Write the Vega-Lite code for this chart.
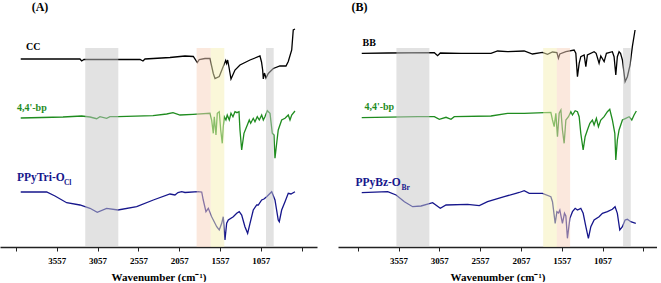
{
  "$schema": "https://vega.github.io/schema/vega-lite/v6.json",
  "padding": 0,
  "background": "white",
  "config": {
    "view": {"stroke": null},
    "concat": {"spacing": 21},
    "text": {"font": "Liberation Serif", "fontWeight": "bold"}
  },
  "datasets": {
    "specA": [
      {"s":"CC","wn":3999,"t":188},{"s":"CC","wn":3640,"t":188},{"s":"CC","wn":3273,"t":188},{"s":"CC","wn":3252,"t":186},{"s":"CC","wn":3224,"t":187.5},{"s":"CC","wn":3028,"t":187.5},{"s":"CC","wn":2807,"t":187.5},{"s":"CC","wn":2537,"t":187.5},{"s":"CC","wn":2501,"t":186},{"s":"CC","wn":2476,"t":188},{"s":"CC","wn":2170,"t":189.5},{"s":"CC","wn":1986,"t":191},{"s":"CC","wn":1884,"t":190.5},{"s":"CC","wn":1835,"t":184.5},{"s":"CC","wn":1811,"t":187.5},{"s":"CC","wn":1741,"t":188.5},{"s":"CC","wn":1680,"t":188.5},{"s":"CC","wn":1639,"t":173.5},{"s":"CC","wn":1618,"t":168.5},{"s":"CC","wn":1566,"t":170.5},{"s":"CC","wn":1517,"t":180.5},{"s":"CC","wn":1487,"t":186.5},{"s":"CC","wn":1475,"t":183.5},{"s":"CC","wn":1463,"t":187},{"s":"CC","wn":1447,"t":180},{"s":"CC","wn":1422,"t":168},{"s":"CC","wn":1373,"t":177},{"s":"CC","wn":1312,"t":182},{"s":"CC","wn":1189,"t":187},{"s":"CC","wn":1067,"t":191},{"s":"CC","wn":1048,"t":185},{"s":"CC","wn":1034,"t":177},{"s":"CC","wn":1026,"t":168},{"s":"CC","wn":1012,"t":174},{"s":"CC","wn":993,"t":169},{"s":"CC","wn":965,"t":173.5},{"s":"CC","wn":904,"t":178.5},{"s":"CC","wn":822,"t":181},{"s":"CC","wn":748,"t":181},{"s":"CC","wn":720,"t":185.5},{"s":"CC","wn":678,"t":197},{"s":"CC","wn":659,"t":217},{"s":"CC","wn":638,"t":218},
      {"s":"4,4'-bp","wn":3999,"t":129},{"s":"4,4'-bp","wn":3481,"t":130},{"s":"4,4'-bp","wn":3252,"t":131},{"s":"4,4'-bp","wn":3150,"t":130},{"s":"4,4'-bp","wn":3068,"t":128.3},{"s":"4,4'-bp","wn":3028,"t":130.3},{"s":"4,4'-bp","wn":2946,"t":128.7},{"s":"4,4'-bp","wn":2905,"t":130.3},{"s":"4,4'-bp","wn":2807,"t":130.3},{"s":"4,4'-bp","wn":2378,"t":131.3},{"s":"4,4'-bp","wn":2210,"t":133},{"s":"4,4'-bp","wn":2133,"t":134.3},{"s":"4,4'-bp","wn":2047,"t":132},{"s":"4,4'-bp","wn":1888,"t":132.7},{"s":"4,4'-bp","wn":1680,"t":133.7},{"s":"4,4'-bp","wn":1659,"t":127},{"s":"4,4'-bp","wn":1639,"t":113.7},{"s":"4,4'-bp","wn":1627,"t":130.3},{"s":"4,4'-bp","wn":1606,"t":112},{"s":"4,4'-bp","wn":1590,"t":133.7},{"s":"4,4'-bp","wn":1566,"t":135.3},{"s":"4,4'-bp","wn":1548,"t":117},{"s":"4,4'-bp","wn":1529,"t":103.7},{"s":"4,4'-bp","wn":1517,"t":120.3},{"s":"4,4'-bp","wn":1504,"t":130.3},{"s":"4,4'-bp","wn":1484,"t":127},{"s":"4,4'-bp","wn":1468,"t":132},{"s":"4,4'-bp","wn":1443,"t":127},{"s":"4,4'-bp","wn":1422,"t":133.7},{"s":"4,4'-bp","wn":1398,"t":130.3},{"s":"4,4'-bp","wn":1373,"t":135.3},{"s":"4,4'-bp","wn":1349,"t":134.3},{"s":"4,4'-bp","wn":1324,"t":135.3},{"s":"4,4'-bp","wn":1312,"t":117},{"s":"4,4'-bp","wn":1291,"t":97},{"s":"4,4'-bp","wn":1263,"t":113.7},{"s":"4,4'-bp","wn":1238,"t":118.7},{"s":"4,4'-bp","wn":1222,"t":122},{"s":"4,4'-bp","wn":1198,"t":127},{"s":"4,4'-bp","wn":1181,"t":123.7},{"s":"4,4'-bp","wn":1149,"t":128.7},{"s":"4,4'-bp","wn":1128,"t":125.3},{"s":"4,4'-bp","wn":1100,"t":130.3},{"s":"4,4'-bp","wn":1075,"t":127},{"s":"4,4'-bp","wn":1046,"t":132},{"s":"4,4'-bp","wn":1026,"t":127},{"s":"4,4'-bp","wn":1006,"t":130.3},{"s":"4,4'-bp","wn":977,"t":136.3},{"s":"4,4'-bp","wn":944,"t":133.7},{"s":"4,4'-bp","wn":916,"t":113.7},{"s":"4,4'-bp","wn":895,"t":112},{"s":"4,4'-bp","wn":883,"t":88.7},{"s":"4,4'-bp","wn":862,"t":103.7},{"s":"4,4'-bp","wn":843,"t":117},{"s":"4,4'-bp","wn":801,"t":127},{"s":"4,4'-bp","wn":760,"t":128.7},{"s":"4,4'-bp","wn":720,"t":132},{"s":"4,4'-bp","wn":699,"t":127},{"s":"4,4'-bp","wn":678,"t":132},{"s":"4,4'-bp","wn":638,"t":136},
      {"s":"PPyTri-OCl","wn":3999,"t":55},{"s":"PPyTri-OCl","wn":3681,"t":55},{"s":"PPyTri-OCl","wn":3579,"t":51},{"s":"PPyTri-OCl","wn":3436,"t":44.3},{"s":"PPyTri-OCl","wn":3273,"t":42},{"s":"PPyTri-OCl","wn":3150,"t":38.7},{"s":"PPyTri-OCl","wn":3061,"t":34.7},{"s":"PPyTri-OCl","wn":2946,"t":38.7},{"s":"PPyTri-OCl","wn":2807,"t":37},{"s":"PPyTri-OCl","wn":2578,"t":40.3},{"s":"PPyTri-OCl","wn":2374,"t":47},{"s":"PPyTri-OCl","wn":2170,"t":53},{"s":"PPyTri-OCl","wn":2109,"t":52},{"s":"PPyTri-OCl","wn":2072,"t":54.5},{"s":"PPyTri-OCl","wn":2026,"t":55.3},{"s":"PPyTri-OCl","wn":1986,"t":54.5},{"s":"PPyTri-OCl","wn":1823,"t":55.3},{"s":"PPyTri-OCl","wn":1781,"t":55},{"s":"PPyTri-OCl","wn":1762,"t":47},{"s":"PPyTri-OCl","wn":1729,"t":35.3},{"s":"PPyTri-OCl","wn":1700,"t":38.7},{"s":"PPyTri-OCl","wn":1659,"t":30.3},{"s":"PPyTri-OCl","wn":1597,"t":20.3},{"s":"PPyTri-OCl","wn":1566,"t":17},{"s":"PPyTri-OCl","wn":1536,"t":23.7},{"s":"PPyTri-OCl","wn":1517,"t":30.3},{"s":"PPyTri-OCl","wn":1496,"t":7},{"s":"PPyTri-OCl","wn":1475,"t":23.7},{"s":"PPyTri-OCl","wn":1455,"t":27},{"s":"PPyTri-OCl","wn":1394,"t":30.3},{"s":"PPyTri-OCl","wn":1352,"t":33.7},{"s":"PPyTri-OCl","wn":1321,"t":35.3},{"s":"PPyTri-OCl","wn":1291,"t":32},{"s":"PPyTri-OCl","wn":1251,"t":20.3},{"s":"PPyTri-OCl","wn":1218,"t":13.7},{"s":"PPyTri-OCl","wn":1189,"t":23.7},{"s":"PPyTri-OCl","wn":1149,"t":37},{"s":"PPyTri-OCl","wn":1107,"t":42},{"s":"PPyTri-OCl","wn":1088,"t":42},{"s":"PPyTri-OCl","wn":1046,"t":47},{"s":"PPyTri-OCl","wn":1018,"t":48},{"s":"PPyTri-OCl","wn":985,"t":50.3},{"s":"PPyTri-OCl","wn":923,"t":55.3},{"s":"PPyTri-OCl","wn":883,"t":47},{"s":"PPyTri-OCl","wn":843,"t":27},{"s":"PPyTri-OCl","wn":830,"t":25.3},{"s":"PPyTri-OCl","wn":801,"t":37},{"s":"PPyTri-OCl","wn":760,"t":45.3},{"s":"PPyTri-OCl","wn":720,"t":53.7},{"s":"PPyTri-OCl","wn":687,"t":53},{"s":"PPyTri-OCl","wn":638,"t":55.3}
    ],
    "specB": [
      {"s":"BB","wn":4008,"t":193.7},{"s":"BB","wn":3690,"t":194},{"s":"BB","wn":3118,"t":194.3},{"s":"BB","wn":3078,"t":191.3},{"s":"BB","wn":3045,"t":194},{"s":"BB","wn":2791,"t":193.7},{"s":"BB","wn":2424,"t":193.7},{"s":"BB","wn":2343,"t":196},{"s":"BB","wn":2221,"t":195.3},{"s":"BB","wn":2017,"t":196},{"s":"BB","wn":1915,"t":193},{"s":"BB","wn":1793,"t":194.7},{"s":"BB","wn":1731,"t":192.7},{"s":"BB","wn":1670,"t":195},{"s":"BB","wn":1616,"t":194.5},{"s":"BB","wn":1597,"t":188.7},{"s":"BB","wn":1580,"t":193},{"s":"BB","wn":1506,"t":195.3},{"s":"BB","wn":1405,"t":197},{"s":"BB","wn":1384,"t":193.7},{"s":"BB","wn":1364,"t":170.3},{"s":"BB","wn":1343,"t":183.7},{"s":"BB","wn":1323,"t":190.3},{"s":"BB","wn":1282,"t":192},{"s":"BB","wn":1261,"t":180.3},{"s":"BB","wn":1242,"t":192},{"s":"BB","wn":1160,"t":195.3},{"s":"BB","wn":1135,"t":193.7},{"s":"BB","wn":1099,"t":183.7},{"s":"BB","wn":1078,"t":191},{"s":"BB","wn":1037,"t":185.3},{"s":"BB","wn":1009,"t":193.7},{"s":"BB","wn":936,"t":195.3},{"s":"BB","wn":915,"t":190.3},{"s":"BB","wn":894,"t":172},{"s":"BB","wn":875,"t":190.3},{"s":"BB","wn":854,"t":195.3},{"s":"BB","wn":836,"t":193.7},{"s":"BB","wn":813,"t":187},{"s":"BB","wn":780,"t":165.3},{"s":"BB","wn":752,"t":170.3},{"s":"BB","wn":719,"t":182},{"s":"BB","wn":691,"t":200.3},{"s":"BB","wn":658,"t":217},
      {"s":"4,4'-bp","wn":4008,"t":129.3},{"s":"4,4'-bp","wn":3322,"t":130.3},{"s":"4,4'-bp","wn":3118,"t":130.3},{"s":"4,4'-bp","wn":3057,"t":127.7},{"s":"4,4'-bp","wn":2975,"t":129.7},{"s":"4,4'-bp","wn":2914,"t":127.7},{"s":"4,4'-bp","wn":2874,"t":130.3},{"s":"4,4'-bp","wn":2424,"t":131},{"s":"4,4'-bp","wn":2221,"t":133.7},{"s":"4,4'-bp","wn":2017,"t":133.7},{"s":"4,4'-bp","wn":1690,"t":134.7},{"s":"4,4'-bp","wn":1670,"t":127},{"s":"4,4'-bp","wn":1649,"t":120.3},{"s":"4,4'-bp","wn":1629,"t":133.7},{"s":"4,4'-bp","wn":1609,"t":110.3},{"s":"4,4'-bp","wn":1588,"t":133.7},{"s":"4,4'-bp","wn":1567,"t":137},{"s":"4,4'-bp","wn":1548,"t":117},{"s":"4,4'-bp","wn":1527,"t":103.7},{"s":"4,4'-bp","wn":1506,"t":127},{"s":"4,4'-bp","wn":1474,"t":130.3},{"s":"4,4'-bp","wn":1445,"t":135.3},{"s":"4,4'-bp","wn":1425,"t":132},{"s":"4,4'-bp","wn":1392,"t":136.3},{"s":"4,4'-bp","wn":1364,"t":135.3},{"s":"4,4'-bp","wn":1343,"t":130.3},{"s":"4,4'-bp","wn":1323,"t":113.7},{"s":"4,4'-bp","wn":1294,"t":97},{"s":"4,4'-bp","wn":1270,"t":110.3},{"s":"4,4'-bp","wn":1242,"t":117},{"s":"4,4'-bp","wn":1212,"t":123.7},{"s":"4,4'-bp","wn":1181,"t":127},{"s":"4,4'-bp","wn":1160,"t":122},{"s":"4,4'-bp","wn":1132,"t":128.7},{"s":"4,4'-bp","wn":1107,"t":120.3},{"s":"4,4'-bp","wn":1078,"t":127},{"s":"4,4'-bp","wn":1037,"t":130.3},{"s":"4,4'-bp","wn":997,"t":135.3},{"s":"4,4'-bp","wn":968,"t":137.7},{"s":"4,4'-bp","wn":936,"t":127},{"s":"4,4'-bp","wn":906,"t":113.7},{"s":"4,4'-bp","wn":894,"t":87},{"s":"4,4'-bp","wn":875,"t":107},{"s":"4,4'-bp","wn":854,"t":117},{"s":"4,4'-bp","wn":813,"t":127},{"s":"4,4'-bp","wn":772,"t":128.7},{"s":"4,4'-bp","wn":731,"t":130.3},{"s":"4,4'-bp","wn":698,"t":127},{"s":"4,4'-bp","wn":670,"t":132},{"s":"4,4'-bp","wn":642,"t":136},
      {"s":"PPyBz-OBr","wn":4008,"t":54.3},{"s":"PPyBz-OBr","wn":3690,"t":55.3},{"s":"PPyBz-OBr","wn":3587,"t":52},{"s":"PPyBz-OBr","wn":3485,"t":45.3},{"s":"PPyBz-OBr","wn":3384,"t":40.3},{"s":"PPyBz-OBr","wn":3281,"t":41},{"s":"PPyBz-OBr","wn":3139,"t":44.3},{"s":"PPyBz-OBr","wn":3045,"t":38.7},{"s":"PPyBz-OBr","wn":2975,"t":42},{"s":"PPyBz-OBr","wn":2711,"t":42.7},{"s":"PPyBz-OBr","wn":2567,"t":41.3},{"s":"PPyBz-OBr","wn":2466,"t":45.3},{"s":"PPyBz-OBr","wn":2261,"t":50.3},{"s":"PPyBz-OBr","wn":2118,"t":53.7},{"s":"PPyBz-OBr","wn":2078,"t":54.5},{"s":"PPyBz-OBr","wn":2017,"t":56.3},{"s":"PPyBz-OBr","wn":1955,"t":53.7},{"s":"PPyBz-OBr","wn":1793,"t":53.7},{"s":"PPyBz-OBr","wn":1690,"t":50.3},{"s":"PPyBz-OBr","wn":1670,"t":45.3},{"s":"PPyBz-OBr","wn":1637,"t":23.7},{"s":"PPyBz-OBr","wn":1616,"t":35.3},{"s":"PPyBz-OBr","wn":1597,"t":34},{"s":"PPyBz-OBr","wn":1580,"t":37},{"s":"PPyBz-OBr","wn":1548,"t":23.7},{"s":"PPyBz-OBr","wn":1523,"t":33.7},{"s":"PPyBz-OBr","wn":1506,"t":31},{"s":"PPyBz-OBr","wn":1487,"t":8.7},{"s":"PPyBz-OBr","wn":1457,"t":28.7},{"s":"PPyBz-OBr","wn":1425,"t":35.3},{"s":"PPyBz-OBr","wn":1392,"t":38.7},{"s":"PPyBz-OBr","wn":1364,"t":37},{"s":"PPyBz-OBr","wn":1323,"t":38.7},{"s":"PPyBz-OBr","wn":1294,"t":33.7},{"s":"PPyBz-OBr","wn":1261,"t":20.3},{"s":"PPyBz-OBr","wn":1230,"t":8.7},{"s":"PPyBz-OBr","wn":1200,"t":20.3},{"s":"PPyBz-OBr","wn":1160,"t":27},{"s":"PPyBz-OBr","wn":1099,"t":30.3},{"s":"PPyBz-OBr","wn":1058,"t":33.7},{"s":"PPyBz-OBr","wn":997,"t":35.3},{"s":"PPyBz-OBr","wn":936,"t":37.7},{"s":"PPyBz-OBr","wn":903,"t":40.3},{"s":"PPyBz-OBr","wn":875,"t":33.7},{"s":"PPyBz-OBr","wn":845,"t":17},{"s":"PPyBz-OBr","wn":813,"t":20.3},{"s":"PPyBz-OBr","wn":780,"t":27},{"s":"PPyBz-OBr","wn":752,"t":27.7},{"s":"PPyBz-OBr","wn":711,"t":25.3},{"s":"PPyBz-OBr","wn":649,"t":23.7}
    ],
    "bandsA": [
      {"wn":3208,"wn2":2803,"z":"z1"},{"wn":1843,"wn2":1671,"z":"z2"},{"wn":1671,"wn2":1504,"z":"z3"},{"wn":993,"wn2":899,"z":"z1"}
    ],
    "bandsB": [
      {"wn":3583,"wn2":3179,"z":"z1"},{"wn":1784,"wn2":1616,"z":"z3"},{"wn":1616,"wn2":1454,"z":"z2"},{"wn":805,"wn2":711,"z":"z1"}
    ],
    "labelsA": [
      {"wn":3935,"t":200.3,"s":"CC","txt":"CC"},{"wn":4045,"t":139.3,"s":"4,4'-bp","txt":"4,4'-bp"}
    ],
    "bigA": [{"wn":4045,"t":69,"s":"PPyTri-OCl","txt":"PPyTri-O"}],
    "subA": [{"wn":3470,"t":64.5,"s":"PPyTri-OCl","txt":"Cl"}],
    "titleA": [{"wn":3865,"t":240,"txt":"(A)"}],
    "labelsB": [
      {"wn":3999,"t":204.3,"s":"BB","txt":"BB"},{"wn":3975,"t":140,"s":"4,4'-bp","txt":"4,4'-bp"}
    ],
    "bigB": [{"wn":4085,"t":63.7,"s":"PPyBz-OBr","txt":"PPyBz-O"}],
    "subB": [{"wn":3520,"t":59.5,"s":"PPyBz-OBr","txt":"Br"}],
    "titleB": [{"wn":4134,"t":240,"txt":"(B)"}]
  },
  "hconcat": [
    {
      "width": 317, "height": 247,
      "resolve": {"scale": {"color": "independent"}},
      "layer": [
        {
          "data": {"name": "specA"},
          "mark": {"type": "line", "strokeWidth": 1.3},
          "encoding": {
            "x": {"field": "wn", "type": "quantitative", "scale": {"domain": [368, 4253], "reverse": true, "nice": false, "zero": false},
              "title": "Wavenumber (cm⁻¹)",
              "axis": {"values": [4057,3807,3557,3307,3057,2807,2557,2307,2057,1807,1557,1307,1057,807,557], "format": "d",
                "labelExpr": "(datum.value <= 3557 && datum.value >= 1057 && (datum.value - 1057) % 500 == 0) ? datum.label : ''",
                "grid": false, "tickSize": 4, "tickColor": "#222", "domainColor": "#222", "domainWidth": 1.5, "tickWidth": 1,
                "labelFont": "Liberation Serif", "labelFontWeight": "bold", "labelFontSize": 9, "labelColor": "#000", "labelPadding": 5, "labelFlush": false,
                "titleFont": "Liberation Serif", "titleFontWeight": "bold", "titleFontSize": 11, "titleColor": "#000", "titlePadding": 6}},
            "y": {"field": "t", "type": "quantitative", "scale": {"domain": [0, 247], "nice": false, "zero": false}, "axis": null},
            "color": {"field": "s", "type": "nominal", "legend": null,
              "scale": {"domain": ["CC","BB","4,4'-bp","PPyTri-OCl","PPyBz-OBr"], "range": ["#000000","#000000","#1f8c1f","#16168c","#16168c"]}}
          }
        },
        {
          "data": {"name": "bandsA"},
          "mark": {"type": "rect", "opacity": 0.5},
          "encoding": {
            "x": {"field": "wn", "type": "quantitative"},
            "x2": {"field": "wn2"},
            "y": {"datum": 0, "type": "quantitative"},
            "y2": {"datum": 199},
            "color": {"field": "z", "type": "nominal", "legend": null,
              "scale": {"domain": ["z1","z2","z3"], "range": ["#c6c6c6","#f7d2bc","#f6efb4"]}}
          }
        },
        {
          "data": {"name": "labelsA"},
          "mark": {"type": "text", "align": "left", "baseline": "middle", "fontSize": 10},
          "encoding": {
            "x": {"field": "wn", "type": "quantitative"},
            "y": {"field": "t", "type": "quantitative"},
            "text": {"field": "txt"},
            "color": {"field": "s", "type": "nominal", "legend": null,
              "scale": {"domain": ["CC","BB","4,4'-bp","PPyTri-OCl","PPyBz-OBr"], "range": ["#000000","#000000","#1f8c1f","#16168c","#16168c"]}}
          }
        },
        {
          "data": {"name": "bigA"},
          "mark": {"type": "text", "align": "left", "baseline": "middle", "fontSize": 11.5, "color": "#16168c"},
          "encoding": {
            "x": {"field": "wn", "type": "quantitative"},
            "y": {"field": "t", "type": "quantitative"},
            "text": {"field": "txt"}
          }
        },
        {
          "data": {"name": "subA"},
          "mark": {"type": "text", "align": "left", "baseline": "middle", "fontSize": 7.5, "color": "#16168c"},
          "encoding": {
            "x": {"field": "wn", "type": "quantitative"},
            "y": {"field": "t", "type": "quantitative"},
            "text": {"field": "txt"}
          }
        },
        {
          "data": {"name": "titleA"},
          "mark": {"type": "text", "align": "left", "baseline": "middle", "fontSize": 12, "color": "#000"},
          "encoding": {
            "x": {"field": "wn", "type": "quantitative"},
            "y": {"field": "t", "type": "quantitative"},
            "text": {"field": "txt"}
          }
        }
      ]
    },
    {
      "width": 319, "height": 247,
      "resolve": {"scale": {"color": "independent"}},
      "layer": [
        {
          "data": {"name": "specB"},
          "mark": {"type": "line", "strokeWidth": 1.3},
          "encoding": {
            "x": {"field": "wn", "type": "quantitative", "scale": {"domain": [389, 4299], "reverse": true, "nice": false, "zero": false},
              "title": "Wavenumber (cm⁻¹)",
              "axis": {"values": [4057,3807,3557,3307,3057,2807,2557,2307,2057,1807,1557,1307,1057,807,557], "format": "d",
                "labelExpr": "(datum.value <= 3557 && datum.value >= 1057 && (datum.value - 1057) % 500 == 0) ? datum.label : ''",
                "grid": false, "tickSize": 4, "tickColor": "#222", "domainColor": "#222", "domainWidth": 1.5, "tickWidth": 1,
                "labelFont": "Liberation Serif", "labelFontWeight": "bold", "labelFontSize": 9, "labelColor": "#000", "labelPadding": 5, "labelFlush": false,
                "titleFont": "Liberation Serif", "titleFontWeight": "bold", "titleFontSize": 11, "titleColor": "#000", "titlePadding": 6}},
            "y": {"field": "t", "type": "quantitative", "scale": {"domain": [0, 247], "nice": false, "zero": false}, "axis": null},
            "color": {"field": "s", "type": "nominal", "legend": null,
              "scale": {"domain": ["CC","BB","4,4'-bp","PPyTri-OCl","PPyBz-OBr"], "range": ["#000000","#000000","#1f8c1f","#16168c","#16168c"]}}
          }
        },
        {
          "data": {"name": "bandsB"},
          "mark": {"type": "rect", "opacity": 0.5},
          "encoding": {
            "x": {"field": "wn", "type": "quantitative"},
            "x2": {"field": "wn2"},
            "y": {"datum": 0, "type": "quantitative"},
            "y2": {"datum": 199},
            "color": {"field": "z", "type": "nominal", "legend": null,
              "scale": {"domain": ["z1","z2","z3"], "range": ["#c6c6c6","#f7d2bc","#f6efb4"]}}
          }
        },
        {
          "data": {"name": "labelsB"},
          "mark": {"type": "text", "align": "left", "baseline": "middle", "fontSize": 10},
          "encoding": {
            "x": {"field": "wn", "type": "quantitative"},
            "y": {"field": "t", "type": "quantitative"},
            "text": {"field": "txt"},
            "color": {"field": "s", "type": "nominal", "legend": null,
              "scale": {"domain": ["CC","BB","4,4'-bp","PPyTri-OCl","PPyBz-OBr"], "range": ["#000000","#000000","#1f8c1f","#16168c","#16168c"]}}
          }
        },
        {
          "data": {"name": "bigB"},
          "mark": {"type": "text", "align": "left", "baseline": "middle", "fontSize": 11.5, "color": "#16168c"},
          "encoding": {
            "x": {"field": "wn", "type": "quantitative"},
            "y": {"field": "t", "type": "quantitative"},
            "text": {"field": "txt"}
          }
        },
        {
          "data": {"name": "subB"},
          "mark": {"type": "text", "align": "left", "baseline": "middle", "fontSize": 7.5, "color": "#16168c"},
          "encoding": {
            "x": {"field": "wn", "type": "quantitative"},
            "y": {"field": "t", "type": "quantitative"},
            "text": {"field": "txt"}
          }
        },
        {
          "data": {"name": "titleB"},
          "mark": {"type": "text", "align": "left", "baseline": "middle", "fontSize": 12, "color": "#000"},
          "encoding": {
            "x": {"field": "wn", "type": "quantitative"},
            "y": {"field": "t", "type": "quantitative"},
            "text": {"field": "txt"}
          }
        }
      ]
    }
  ]
}
